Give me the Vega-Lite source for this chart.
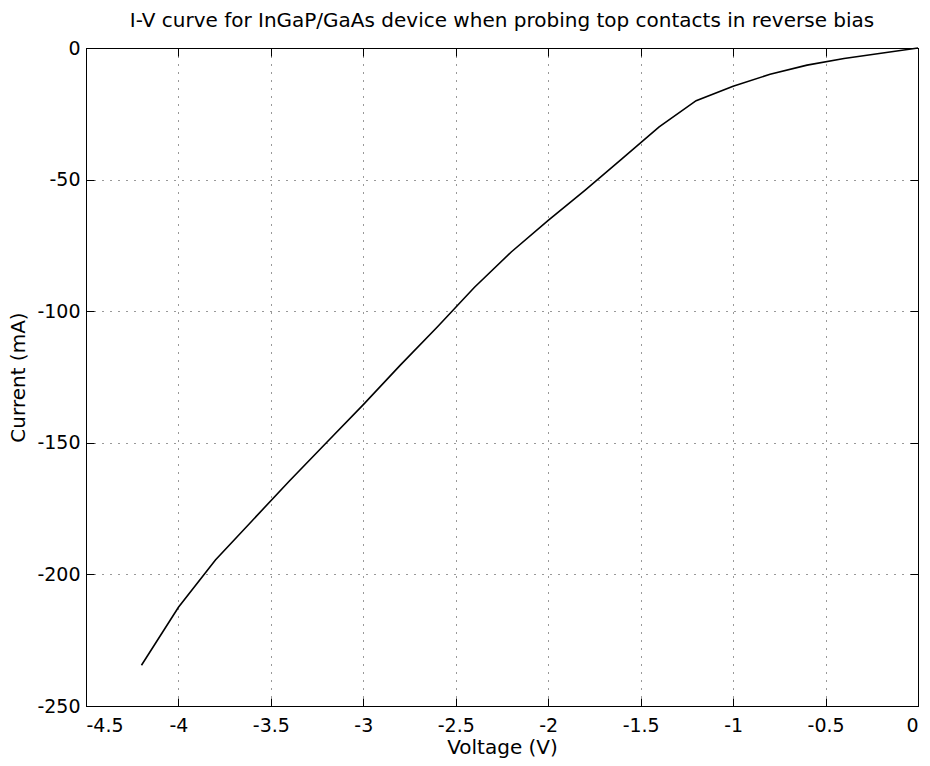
{
  "$schema": "https://vega.github.io/schema/vega-lite/v6.json",
  "autosize": "none",
  "width": 832,
  "height": 658,
  "padding": {"left": 86, "top": 48, "right": 12, "bottom": 60},
  "background": "white",
  "title": {"text": "I-V curve for InGaP/GaAs device when probing top contacts in reverse bias", "font": "DejaVu Sans", "fontSize": 20, "fontWeight": "normal", "color": "black", "anchor": "middle", "offset": 8},
  "config": {
    "view": {"stroke": "black", "strokeWidth": 1},
    "axis": {"labelFont": "DejaVu Sans", "titleFont": "DejaVu Sans", "labelFontSize": 19, "titleFontSize": 20, "titleFontWeight": "normal", "labelColor": "black", "titleColor": "black", "domainColor": "black", "tickColor": "black", "tickSize": -8, "labelPadding": 16, "gridColor": "black", "gridDash": [1, 7], "gridWidth": 1, "gridOpacity": 0.8, "labelExpr": "replace(datum.label, '−', '-')"}
  },
  "data": {"values": [
    {"V": -4.2, "I": -234.5},
    {"V": -4.0, "I": -212.5},
    {"V": -3.8, "I": -194.5},
    {"V": -3.6, "I": -179.5},
    {"V": -3.4, "I": -164.5},
    {"V": -3.2, "I": -150},
    {"V": -3.0, "I": -135.5},
    {"V": -2.8, "I": -120.5},
    {"V": -2.6, "I": -106},
    {"V": -2.4, "I": -91},
    {"V": -2.2, "I": -77.5},
    {"V": -2.0, "I": -65.5},
    {"V": -1.8, "I": -54},
    {"V": -1.6, "I": -42},
    {"V": -1.4, "I": -30},
    {"V": -1.2, "I": -20},
    {"V": -1.0, "I": -14.5},
    {"V": -0.8, "I": -10},
    {"V": -0.6, "I": -6.5},
    {"V": -0.4, "I": -4},
    {"V": -0.2, "I": -2},
    {"V": 0.0, "I": 0}
  ]},
  "layer": [
    {
      "mark": {"type": "line", "color": "black", "strokeWidth": 1.6},
      "encoding": {
        "x": {"field": "V", "type": "quantitative", "scale": {"domain": [-4.5, 0], "nice": false, "zero": false}, "axis": {"title": "Voltage (V)", "values": [-4.5, -4, -3.5, -3, -2.5, -2, -1.5, -1, -0.5, 0], "format": "~g", "grid": true, "labelPadding": 18, "titlePadding": 2}},
        "y": {"field": "I", "type": "quantitative", "scale": {"domain": [-250, 0], "nice": false, "zero": false}, "axis": {"title": "Current (mA)", "values": [-250, -200, -150, -100, -50, 0], "grid": true, "labelPadding": 14, "titlePadding": 8}}
      }
    },
    {
      "mark": {"type": "line", "opacity": 0},
      "encoding": {
        "x": {"field": "V", "type": "quantitative", "scale": {"domain": [-4.5, 0], "nice": false, "zero": false}, "axis": {"orient": "top", "title": null, "labels": false, "grid": false, "values": [-4.5, -4, -3.5, -3, -2.5, -2, -1.5, -1, -0.5, 0]}},
        "y": {"field": "I", "type": "quantitative", "scale": {"domain": [-250, 0], "nice": false, "zero": false}, "axis": {"orient": "right", "title": null, "labels": false, "grid": false, "values": [-250, -200, -150, -100, -50, 0]}}
      }
    }
  ],
  "resolve": {"axis": {"x": "independent", "y": "independent"}}
}
